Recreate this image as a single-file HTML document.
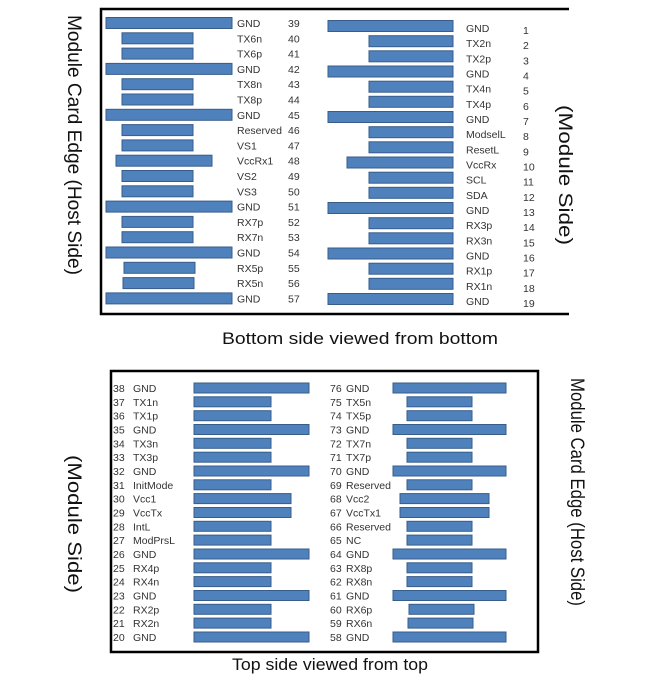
<!DOCTYPE html>
<html><head><meta charset="utf-8"><style>
html,body{margin:0;padding:0;background:#fff;}
svg{display:block;}
text{font-family:"Liberation Sans",sans-serif;fill:#333;}
.l{font-size:10.5px;}
.b{fill:#4f81bd;stroke:#385d8a;stroke-width:1;}
</style></head><body>
<svg width="650" height="683" viewBox="0 0 650 683" xmlns="http://www.w3.org/2000/svg">
<polyline points="569,9 101,9 101,314 569,314" fill="none" stroke="#000" stroke-width="2.5"/>
<rect x="111" y="371" width="427" height="281" fill="none" stroke="#000" stroke-width="2.5"/>

<text x="222" y="344" font-size="17" textLength="276" lengthAdjust="spacingAndGlyphs" style="fill:#111">Bottom side viewed from bottom</text>
<text x="232" y="670" font-size="17" textLength="196" lengthAdjust="spacingAndGlyphs" style="fill:#111">Top side viewed from top</text>

<text transform="translate(68,15) rotate(90)" font-size="19" textLength="260" lengthAdjust="spacingAndGlyphs" style="fill:#111">Module Card Edge (Host Side)</text>
<text transform="translate(559,105) rotate(90)" font-size="19" textLength="140" lengthAdjust="spacingAndGlyphs" style="fill:#111">(Module Side)</text>
<text transform="translate(68,455) rotate(90)" font-size="19" textLength="138" lengthAdjust="spacingAndGlyphs" style="fill:#111">(Module Side)</text>
<text transform="translate(571,378) rotate(90)" font-size="19" textLength="228" lengthAdjust="spacingAndGlyphs" style="fill:#111">Module Card Edge (Host Side)</text>

<g class="l">
<rect class="b" x="106" y="17.5" width="126" height="11"/><text x="237" y="27">GND</text><text x="288" y="27">39</text>
<rect class="b" x="122" y="32.8" width="71" height="11"/><text x="237" y="42.3">TX6n</text><text x="288" y="42.3">40</text>
<rect class="b" x="122" y="48.1" width="71" height="11"/><text x="237" y="57.6">TX6p</text><text x="288" y="57.6">41</text>
<rect class="b" x="106" y="63.4" width="126" height="11"/><text x="237" y="72.9">GND</text><text x="288" y="72.9">42</text>
<rect class="b" x="122" y="78.7" width="71" height="11"/><text x="237" y="88.2">TX8n</text><text x="288" y="88.2">43</text>
<rect class="b" x="122" y="94.0" width="71" height="11"/><text x="237" y="103.5">TX8p</text><text x="288" y="103.5">44</text>
<rect class="b" x="106" y="109.3" width="126" height="11"/><text x="237" y="118.8">GND</text><text x="288" y="118.8">45</text>
<rect class="b" x="122" y="124.6" width="71" height="11"/><text x="237" y="134.1">Reserved</text><text x="288" y="134.1">46</text>
<rect class="b" x="122" y="139.9" width="71" height="11"/><text x="237" y="149.4">VS1</text><text x="288" y="149.4">47</text>
<rect class="b" x="116" y="155.2" width="96" height="11"/><text x="237" y="164.7">VccRx1</text><text x="288" y="164.7">48</text>
<rect class="b" x="122" y="170.5" width="71" height="11"/><text x="237" y="180.0">VS2</text><text x="288" y="180.0">49</text>
<rect class="b" x="122" y="185.8" width="71" height="11"/><text x="237" y="195.3">VS3</text><text x="288" y="195.3">50</text>
<rect class="b" x="106" y="201.1" width="126" height="11"/><text x="237" y="210.6">GND</text><text x="288" y="210.6">51</text>
<rect class="b" x="122" y="216.4" width="71" height="11"/><text x="237" y="225.9">RX7p</text><text x="288" y="225.9">52</text>
<rect class="b" x="122" y="231.7" width="71" height="11"/><text x="237" y="241.2">RX7n</text><text x="288" y="241.2">53</text>
<rect class="b" x="106" y="247.0" width="126" height="11"/><text x="237" y="256.5">GND</text><text x="288" y="256.5">54</text>
<rect class="b" x="124" y="262.3" width="71" height="11"/><text x="237" y="271.8">RX5p</text><text x="288" y="271.8">55</text>
<rect class="b" x="123" y="277.6" width="71" height="11"/><text x="237" y="287.1">RX5n</text><text x="288" y="287.1">56</text>
<rect class="b" x="106" y="292.9" width="126" height="11"/><text x="237" y="302.4">GND</text><text x="288" y="302.4">57</text>
<rect class="b" x="328" y="20.5" width="125" height="11"/><text x="466" y="32">GND</text><text x="523" y="34">1</text>
<rect class="b" x="369" y="35.7" width="84" height="11"/><text x="466" y="47.2">TX2n</text><text x="523" y="49.2">2</text>
<rect class="b" x="369" y="50.8" width="84" height="11"/><text x="466" y="62.3">TX2p</text><text x="523" y="64.3">3</text>
<rect class="b" x="328" y="66.0" width="125" height="11"/><text x="466" y="77.5">GND</text><text x="523" y="79.5">4</text>
<rect class="b" x="369" y="81.2" width="84" height="11"/><text x="466" y="92.7">TX4n</text><text x="523" y="94.7">5</text>
<rect class="b" x="369" y="96.3" width="84" height="11"/><text x="466" y="107.8">TX4p</text><text x="523" y="109.8">6</text>
<rect class="b" x="328" y="111.5" width="125" height="11"/><text x="466" y="123">GND</text><text x="523" y="125">7</text>
<rect class="b" x="369" y="126.7" width="84" height="11"/><text x="466" y="138.2">ModselL</text><text x="523" y="140.2">8</text>
<rect class="b" x="369" y="141.8" width="84" height="11"/><text x="466" y="153.3">ResetL</text><text x="523" y="155.3">9</text>
<rect class="b" x="347" y="157.0" width="106" height="11"/><text x="466" y="168.5">VccRx</text><text x="523" y="170.5">10</text>
<rect class="b" x="369" y="172.2" width="84" height="11"/><text x="466" y="183.7">SCL</text><text x="523" y="185.7">11</text>
<rect class="b" x="369" y="187.3" width="84" height="11"/><text x="466" y="198.8">SDA</text><text x="523" y="200.8">12</text>
<rect class="b" x="328" y="202.5" width="125" height="11"/><text x="466" y="214">GND</text><text x="523" y="216">13</text>
<rect class="b" x="369" y="217.7" width="84" height="11"/><text x="466" y="229.2">RX3p</text><text x="523" y="231.2">14</text>
<rect class="b" x="369" y="232.8" width="84" height="11"/><text x="466" y="244.3">RX3n</text><text x="523" y="246.3">15</text>
<rect class="b" x="328" y="248.0" width="125" height="11"/><text x="466" y="259.5">GND</text><text x="523" y="261.5">16</text>
<rect class="b" x="369" y="263.2" width="84" height="11"/><text x="466" y="274.7">RX1p</text><text x="523" y="276.7">17</text>
<rect class="b" x="369" y="278.3" width="84" height="11"/><text x="466" y="289.8">RX1n</text><text x="523" y="291.8">18</text>
<rect class="b" x="328" y="293.5" width="125" height="11"/><text x="466" y="305">GND</text><text x="523" y="307">19</text>
<rect class="b" x="194" y="383" width="115" height="10"/><text x="113" y="392">38</text><text x="133" y="392">GND</text>
<rect class="b" x="194" y="396.8" width="77" height="10"/><text x="113" y="405.8">37</text><text x="133" y="405.8">TX1n</text>
<rect class="b" x="194" y="410.7" width="77" height="10"/><text x="113" y="419.7">36</text><text x="133" y="419.7">TX1p</text>
<rect class="b" x="194" y="424.5" width="115" height="10"/><text x="113" y="433.5">35</text><text x="133" y="433.5">GND</text>
<rect class="b" x="194" y="438.3" width="77" height="10"/><text x="113" y="447.3">34</text><text x="133" y="447.3">TX3n</text>
<rect class="b" x="194" y="452.2" width="77" height="10"/><text x="113" y="461.2">33</text><text x="133" y="461.2">TX3p</text>
<rect class="b" x="194" y="466" width="115" height="10"/><text x="113" y="475">32</text><text x="133" y="475">GND</text>
<rect class="b" x="194" y="479.8" width="77" height="10"/><text x="113" y="488.8">31</text><text x="133" y="488.8">InitMode</text>
<rect class="b" x="194" y="493.6" width="97" height="10"/><text x="113" y="502.6">30</text><text x="133" y="502.6">Vcc1</text>
<rect class="b" x="194" y="507.5" width="97" height="10"/><text x="113" y="516.5">29</text><text x="133" y="516.5">VccTx</text>
<rect class="b" x="194" y="521.3" width="77" height="10"/><text x="113" y="530.3">28</text><text x="133" y="530.3">IntL</text>
<rect class="b" x="194" y="535.1" width="77" height="10"/><text x="113" y="544.1">27</text><text x="133" y="544.1">ModPrsL</text>
<rect class="b" x="194" y="549" width="115" height="10"/><text x="113" y="558">26</text><text x="133" y="558">GND</text>
<rect class="b" x="194" y="562.8" width="77" height="10"/><text x="113" y="571.8">25</text><text x="133" y="571.8">RX4p</text>
<rect class="b" x="194" y="576.6" width="77" height="10"/><text x="113" y="585.6">24</text><text x="133" y="585.6">RX4n</text>
<rect class="b" x="194" y="590.5" width="115" height="10"/><text x="113" y="599.5">23</text><text x="133" y="599.5">GND</text>
<rect class="b" x="194" y="604.3" width="77" height="10"/><text x="113" y="613.3">22</text><text x="133" y="613.3">RX2p</text>
<rect class="b" x="194" y="618.1" width="77" height="10"/><text x="113" y="627.1">21</text><text x="133" y="627.1">RX2n</text>
<rect class="b" x="194" y="632" width="115" height="10"/><text x="113" y="641">20</text><text x="133" y="641">GND</text>
<rect class="b" x="393" y="383" width="113" height="10"/><text x="330" y="392">76</text><text x="346" y="392">GND</text>
<rect class="b" x="407" y="396.8" width="65" height="10"/><text x="330" y="405.8">75</text><text x="346" y="405.8">TX5n</text>
<rect class="b" x="407" y="410.7" width="65" height="10"/><text x="330" y="419.7">74</text><text x="346" y="419.7">TX5p</text>
<rect class="b" x="393" y="424.5" width="113" height="10"/><text x="330" y="433.5">73</text><text x="346" y="433.5">GND</text>
<rect class="b" x="407" y="438.3" width="65" height="10"/><text x="330" y="447.3">72</text><text x="346" y="447.3">TX7n</text>
<rect class="b" x="407" y="452.2" width="65" height="10"/><text x="330" y="461.2">71</text><text x="346" y="461.2">TX7p</text>
<rect class="b" x="393" y="466" width="113" height="10"/><text x="330" y="475">70</text><text x="346" y="475">GND</text>
<rect class="b" x="407" y="479.8" width="65" height="10"/><text x="330" y="488.8">69</text><text x="346" y="488.8">Reserved</text>
<rect class="b" x="400" y="493.6" width="89" height="10"/><text x="330" y="502.6">68</text><text x="346" y="502.6">Vcc2</text>
<rect class="b" x="400" y="507.5" width="89" height="10"/><text x="330" y="516.5">67</text><text x="346" y="516.5">VccTx1</text>
<rect class="b" x="407" y="521.3" width="65" height="10"/><text x="330" y="530.3">66</text><text x="346" y="530.3">Reserved</text>
<rect class="b" x="407" y="535.1" width="65" height="10"/><text x="330" y="544.1">65</text><text x="346" y="544.1">NC</text>
<rect class="b" x="393" y="549" width="113" height="10"/><text x="330" y="558">64</text><text x="346" y="558">GND</text>
<rect class="b" x="407" y="562.8" width="65" height="10"/><text x="330" y="571.8">63</text><text x="346" y="571.8">RX8p</text>
<rect class="b" x="407" y="576.6" width="65" height="10"/><text x="330" y="585.6">62</text><text x="346" y="585.6">RX8n</text>
<rect class="b" x="393" y="590.5" width="113" height="10"/><text x="330" y="599.5">61</text><text x="346" y="599.5">GND</text>
<rect class="b" x="409" y="604.3" width="65" height="10"/><text x="330" y="613.3">60</text><text x="346" y="613.3">RX6p</text>
<rect class="b" x="408" y="618.1" width="65" height="10"/><text x="330" y="627.1">59</text><text x="346" y="627.1">RX6n</text>
<rect class="b" x="393" y="632" width="113" height="10"/><text x="330" y="641">58</text><text x="346" y="641">GND</text>
</g>
</svg>
</body></html>
